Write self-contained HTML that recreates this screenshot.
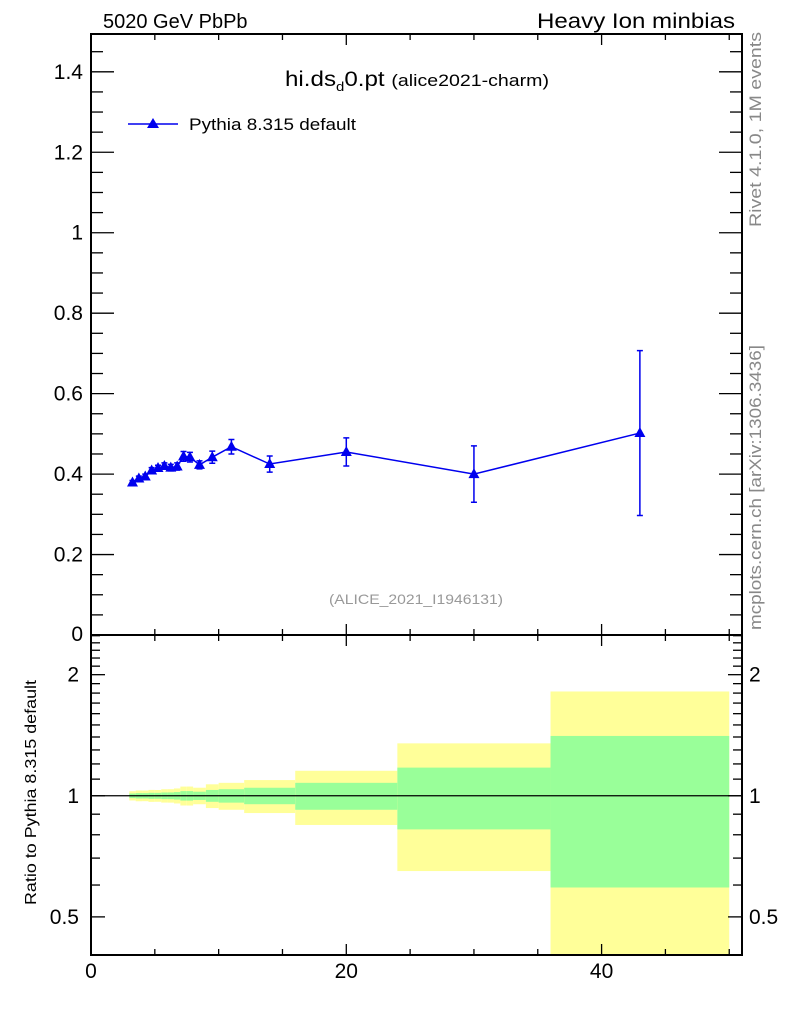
<!DOCTYPE html>
<html><head><meta charset="utf-8"><style>
body{margin:0;background:#fff;font-family:"Liberation Sans",sans-serif}
svg text{font-family:"Liberation Sans",sans-serif}
</style></head><body>
<svg id="chart" width="786" height="1024" xmlns="http://www.w3.org/2000/svg">
<text x="103" y="28" font-size="20">5020 GeV PbPb</text>
<text x="537" y="28" font-size="21" textLength="198" lengthAdjust="spacingAndGlyphs">Heavy Ion minbias</text>
<text x="285" y="86" font-size="21" textLength="264" lengthAdjust="spacingAndGlyphs">hi.ds<tspan font-size="13" dy="5">d</tspan><tspan dy="-5">0.pt </tspan><tspan font-size="17">(alice2021-charm)</tspan></text>
<g>
<line x1="128" y1="124" x2="178" y2="124" stroke="#0000ee" stroke-width="1.5"/>
<path d="M153,118 L159,128 L147,128 Z" fill="#0000ee"/>
<text x="189" y="130" font-size="17" textLength="167" lengthAdjust="spacingAndGlyphs">Pythia 8.315 default</text>
</g>
<text x="329" y="604" font-size="14" fill="#999" textLength="174" lengthAdjust="spacingAndGlyphs">(ALICE_2021_I1946131)</text>
<text transform="translate(761,227) rotate(-90)" font-size="17" fill="#888" textLength="195" lengthAdjust="spacingAndGlyphs">Rivet 4.1.0,  1M events</text>
<text transform="translate(761,630) rotate(-90)" font-size="17" fill="#888" textLength="285" lengthAdjust="spacingAndGlyphs">mcplots.cern.ch [arXiv:1306.3436]</text>
<text transform="translate(36,905) rotate(-90)" font-size="16" textLength="225" lengthAdjust="spacingAndGlyphs">Ratio to Pythia 8.315 default</text>
<g id="bands"></g><g id="axes"></g><g id="marks"></g>
</svg>
<script>
const binEdges=[3,3.5,4,4.5,5,5.5,6,6.5,7,7.5,8,9,10,12,16,24,36,50];
const xVals=[3.25,3.75,4.25,4.75,5.25,5.75,6.25,6.75,7.25,7.75,8.5,9.5,11,14,20,30,43];
const yVals=[0.379,0.389,0.394,0.409,0.415,0.420,0.416,0.419,0.444,0.442,0.423,0.442,0.468,0.425,0.455,0.400,0.502];
const yErrs=[0.005,0.006,0.006,0.007,0.007,0.008,0.008,0.009,0.012,0.012,0.010,0.015,0.018,0.020,0.035,0.070,0.205];
const xTickLabels=[0,20,40];
const yTickLabels=[0.2,0.4,0.6,0.8,1,1.2,1.4];
const ratioTickLabels=[0.5,1,2];
const NS="http://www.w3.org/2000/svg";
const L=91,R=742,T=34,B=635,RT=635,RB=955;
const X=v=>L+(v-0)/(51-0)*(R-L);
const Y=v=>B-v/1.494*(B-T);
const lr0=Math.log(0.402),lr1=Math.log(2.51);
const RY=v=>{const c=Math.min(Math.max(v,0.402),2.51);return RB-(Math.log(c)-lr0)/(lr1-lr0)*(RB-RT);};
function mk(tag,attrs,parent,txt){const e=document.createElementNS(NS,tag);for(const k in attrs)e.setAttribute(k,attrs[k]);if(txt!==undefined)e.textContent=txt;document.getElementById(parent).appendChild(e);return e;}
for(let i=0;i<yVals.length;i++){
 const r=yErrs[i]/yVals[i];
 const x1=X(binEdges[i]),x2=X(binEdges[i+1]);
 const yb=mk('rect',{x:x1,y:RY(1+2*r),width:x2-x1,height:RY(Math.max(1-2*r,0.01))-RY(1+2*r),fill:'#ffff99'},'bands');
 
 
 const gb=mk('rect',{x:x1,y:RY(1+r),width:x2-x1,height:RY(1-r)-RY(1+r),fill:'#99ff99'},'bands');
 
 
}
mk('line',{x1:L,x2:R,y1:RY(1),y2:RY(1),stroke:'#000','stroke-width':1.2},'bands');
const f1=mk('rect',{x:L,y:T,width:R-L,height:B-T,fill:'none',stroke:'#000','stroke-width':2},'axes');


const f2=mk('rect',{x:L,y:RT,width:R-L,height:RB-RT,fill:'none',stroke:'#000','stroke-width':2},'axes');


for(let v=0;v<=50;v+=5){const maj=v%20===0,len=maj?11:6;const x=X(v);
 for(const [yy,d] of [[B,-1],[T,1],[RT,1],[RB,-1]]) mk('line',{x1:x,x2:x,y1:yy,y2:yy+d*len,stroke:'#000','stroke-width':1.3},'axes');}
xTickLabels.forEach(v=>{const t=mk('text',{x:X(v),y:978,'font-size':21,'text-anchor':'middle'},'axes',String(v));
 
 });
for(let k=1;k*0.05<1.49;k++){const v=k*0.05,maj=k%4===0,len=maj?23:12,y=Y(v);
 mk('line',{x1:L,x2:L+len,y1:y,y2:y,stroke:'#000','stroke-width':1.3},'axes');
 mk('line',{x1:R,x2:R-len,y1:y,y2:y,stroke:'#000','stroke-width':1.3},'axes');}
yTickLabels.forEach(v=>{const t=mk('text',{x:83,y:Y(v)+7,'font-size':21,'text-anchor':'end'},'axes',String(v));
 
 });
mk('text',{x:83,y:641,'font-size':21,'text-anchor':'end'},'axes','0');
[0.5,0.6,0.7,0.8,0.9,1,1.1,1.2,1.3,1.4,1.5,1.6,1.7,1.8,1.9,2,2.1,2.2,2.3,2.4,2.5].forEach(v=>{const maj=ratioTickLabels.includes(v),len=maj?14:9,y=RY(v);
 mk('line',{x1:L,x2:L+len,y1:y,y2:y,stroke:'#000','stroke-width':1.3},'axes');
 mk('line',{x1:R,x2:R-len,y1:y,y2:y,stroke:'#000','stroke-width':1.3},'axes');});
ratioTickLabels.forEach(v=>{const y=RY(v)+7;
 const a=mk('text',{x:79,y:y,'font-size':21,'text-anchor':'end'},'axes',String(v));
 
 
 const b=mk('text',{x:749,y:y,'font-size':21},'axes',String(v));
 
 });
const pl=mk('polyline',{points:xVals.map((x,i)=>X(x)+','+Y(yVals[i])).join(' '),fill:'none',stroke:'#0000ee','stroke-width':1.5},'marks');


xVals.forEach((xv,i)=>{const x=X(xv),y=Y(yVals[i]),y1=Y(yVals[i]+yErrs[i]),y2=Y(yVals[i]-yErrs[i]);
 const g=mk('g',{},'marks');
 
 
 const e=document.createElementNS(NS,'path');
 e.setAttribute('d',`M${x},${y1}V${y2}M${x-3},${y1}H${x+3}M${x-3},${y2}H${x+3}`);
 e.setAttribute('stroke','#0000ee');e.setAttribute('stroke-width','1.5');e.setAttribute('fill','none');g.appendChild(e);
 const p=document.createElementNS(NS,'path');
 p.setAttribute('d',`M${x},${y-6}L${x+5.5},${y+4}L${x-5.5},${y+4}Z`);p.setAttribute('fill','#0000ee');g.appendChild(p);});
</script>
</body></html>
